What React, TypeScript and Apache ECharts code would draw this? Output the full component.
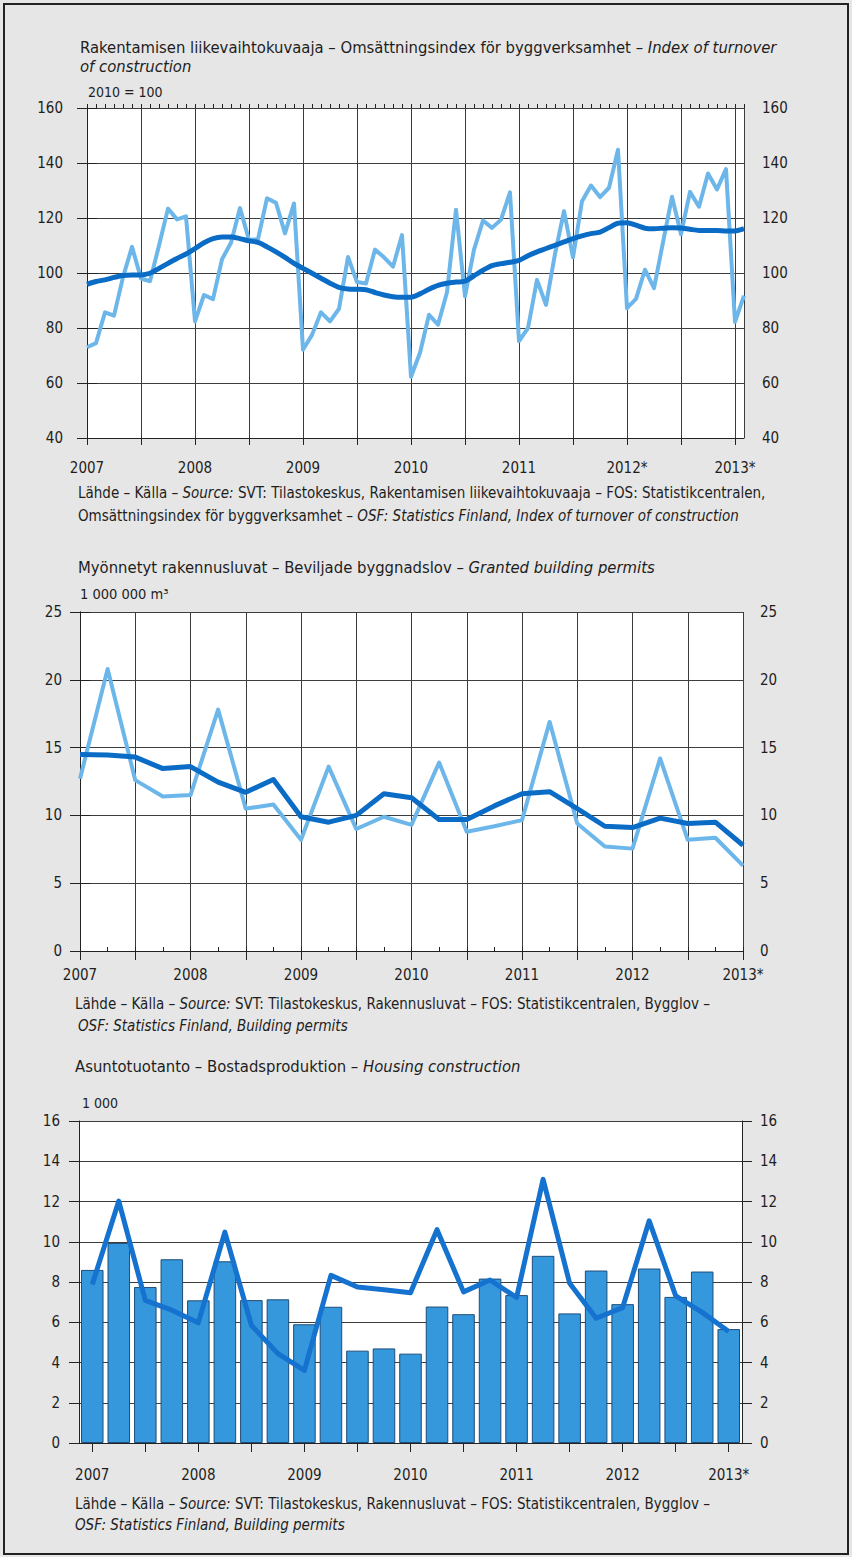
import React, { useEffect, useRef } from 'react';
import * as echarts from 'echarts';

// ---------- Data ----------
// Chart 1: Index of turnover of construction, monthly Jan 2007 – Feb 2013 (2010 = 100)
const turnoverOriginal = [
  73, 74.5, 85.7, 84.5, 98.5, 109.5, 98, 97, 110, 123.4, 119.5, 120.6,
  82.4, 92, 90.5, 105, 111, 123.6, 112, 112.3, 127.2, 125.5, 114.4, 125.3,
  72.1, 77.5, 85.7, 82.4, 87, 105.8, 96.7, 96.2, 108.5, 105.7, 102.3, 113.8,
  62.3, 71, 84.8, 81.2, 93, 123, 91.5, 108.5, 119.1, 116.4, 119.4, 129.3,
  75.2, 80, 97.5, 88.4, 106.9, 122.5, 105.7, 126.1, 131.8, 127.6, 131, 144.8,
  87.2, 90.6, 101.2, 94.5, 111.1, 127.7, 114.1, 129.5, 124.1, 136.2, 130.4, 137.8,
  82.2, 91.8,
];
const turnoverTrend = [
  95.9, 96.9, 97.5, 98.4, 99.1, 99.3, 99.3, 99.9, 101.7, 103.5, 105.3, 106.9,
  108.9, 111, 112.5, 113.1, 113.1, 112.5, 111.7, 111.1, 109.5, 107.7, 105.7, 103.5,
  101.7, 99.9, 98.1, 96.3, 94.8, 94.2, 94.1, 93.9, 92.9, 92, 91.4, 91.2,
  91.2, 92.4, 94.1, 95.5, 96.3, 96.7, 97, 99, 101, 102.7, 103.4, 103.9,
  104.6, 106.3, 107.7, 108.9, 110.1, 111.3, 112.5, 113.5, 114.3, 114.9, 116.5, 118.1,
  118.3, 117.4, 116.3, 116.1, 116.3, 116.5, 116.4, 115.9, 115.5, 115.5, 115.5, 115.3,
  115.3, 116.1,
];
const turnoverYTicks = [40, 160, 20]; // min, max, step

// Chart 2: Granted building permits, quarterly 2007Q1 – 2013Q1 (1 000 000 m3)
const permits = [
  12.7, 20.8, 12.6, 11.4, 11.5, 17.8, 10.5, 10.8, 8.2, 13.6, 9.0, 9.9,
  9.3, 13.9, 8.8, 9.2, 9.65, 16.9, 9.4, 7.7, 7.55, 14.2, 8.2, 8.35, 6.3,
];
const permitsTrend = [
  14.5, 14.45, 14.3, 13.45, 13.6, 12.45, 11.7, 12.65, 9.9, 9.5, 10.0, 11.6,
  11.3, 9.7, 9.7, 10.7, 11.6, 11.75, 10.5, 9.2, 9.1, 9.8, 9.4, 9.5, 7.8,
];

// Chart 3: Housing construction, quarterly 2007Q1 – 2013Q1 (1 000)
const quarters = [
  '2007Q1', '2007Q2', '2007Q3', '2007Q4', '2008Q1', '2008Q2', '2008Q3', '2008Q4',
  '2009Q1', '2009Q2', '2009Q3', '2009Q4', '2010Q1', '2010Q2', '2010Q3', '2010Q4',
  '2011Q1', '2011Q2', '2011Q3', '2011Q4', '2012Q1', '2012Q2', '2012Q3', '2012Q4', '2013Q1',
];
const housingBars = [
  8.6, 9.94, 7.75, 9.13, 7.09, 9.03, 7.1, 7.14, 5.9, 6.77, 4.59, 4.7,
  4.44, 6.78, 6.4, 8.17, 7.35, 9.3, 6.44, 8.57, 6.9, 8.67, 7.26, 8.52, 5.66,
];
const housingLine = [
  7.88, 12.02, 7.09, 6.6, 5.98, 10.48, 5.85, 4.44, 3.61, 8.33, 7.75, 7.62,
  7.47, 10.6, 7.51, 8.1, 7.23, 13.1, 7.94, 6.2, 6.73, 11.04, 7.31, 6.49, 5.54,
];

// ---------- Styles ----------
const FONT = "'Liberation Sans Narrow', 'DejaVu Sans Condensed', 'Roboto', sans-serif";
const TXT = '#1e1e1e';
const GRID_LINE = '#3c3c3c';
const LIGHT = '#6cb6ea';
const DARK = '#0b6cc6';
const BAR = '#3597dc';
const AXIS_FS = 15;
const SRC_FS = 15;

const richStyle = (size: number) => ({
  n: { fontFamily: FONT, fontSize: size, fill: TXT, fontStyle: 'normal' },
  i: { fontFamily: FONT, fontSize: size, fill: TXT, fontStyle: 'italic' },
});

const textEl = (x: number, y: number, text: string, size: number) => ({
  type: 'text',
  x,
  y,
  silent: true,
  style: {
    text,
    fontFamily: FONT,
    fontSize: size,
    fill: TXT,
    verticalAlign: 'middle',
    align: 'left',
    rich: richStyle(size),
  },
});

const yearLabel = (year: number, star: boolean) => (star ? `${year}*` : `${year}`);

const labelStyle = { fontFamily: FONT, fontSize: AXIS_FS, color: TXT };

function yAxisPair(gridIndex: number, min: number, max: number, interval: number, lm: number, rm: number) {
  const base = {
    type: 'value',
    gridIndex,
    min,
    max,
    interval,
    axisLine: { show: true, lineStyle: { color: '#222', width: 1 } },
    axisTick: { show: true, length: 10, lineStyle: { color: '#222', width: 1 } },
  };
  return [
    {
      ...base,
      position: 'left',
      axisLabel: { ...labelStyle, margin: lm },
      splitLine: { show: true, lineStyle: { color: GRID_LINE, width: 1 } },
    },
    {
      ...base,
      position: 'right',
      axisLabel: { ...labelStyle, margin: rm },
      splitLine: { show: false },
    },
  ];
}

export default function App() {
  const ref = useRef<HTMLDivElement>(null);

  useEffect(() => {
    if (!ref.current) return;
    const chart = echarts.init(ref.current, null, { renderer: 'svg' });

    const option: any = {
      animation: false,
      backgroundColor: '#e6e6e6',
      grid: [
        { left: 87, top: 108, width: 657, height: 330, show: true, backgroundColor: '#fff', borderWidth: 0 },
        { left: 80, top: 612, width: 663, height: 339, show: true, backgroundColor: '#fff', borderWidth: 0 },
        { left: 79, top: 1121, width: 663, height: 322, show: true, backgroundColor: '#fff', borderWidth: 0 },
      ],
      xAxis: [
        // chart 1 main
        {
          type: 'value', gridIndex: 0, min: 0, max: turnoverOriginal.length - 1, interval: 6,
          axisLine: { show: true, lineStyle: { color: '#222' } },
          axisTick: { show: true, length: 7, lineStyle: { color: '#222' } },
          splitLine: { show: true, lineStyle: { color: GRID_LINE, width: 1 } },
          axisLabel: {
            ...labelStyle, margin: 22, showMaxLabel: false,
            formatter: (v: number) => (v % 12 === 0 ? yearLabel(2007 + v / 12, v >= 60) : ''),
          },
        },
        // chart 1 monthly ticks
        {
          type: 'value', gridIndex: 0, min: 0, max: turnoverOriginal.length - 1, interval: 1,
          axisLine: { show: false }, axisLabel: { show: false }, splitLine: { show: false },
          axisTick: { show: true, length: 4, lineStyle: { color: '#222' } },
        },
        // chart 2 main
        {
          type: 'value', gridIndex: 1, min: 0, max: permits.length - 1, interval: 2,
          axisLine: { show: true, lineStyle: { color: '#222' } },
          axisTick: { show: true, length: 9, lineStyle: { color: '#222' } },
          splitLine: { show: true, lineStyle: { color: GRID_LINE, width: 1 } },
          axisLabel: {
            ...labelStyle, margin: 16,
            formatter: (v: number) => (v % 4 === 0 ? yearLabel(2007 + v / 4, v >= 24) : ''),
          },
        },
        // chart 2 quarterly ticks
        {
          type: 'value', gridIndex: 1, min: 0, max: permits.length - 1, interval: 1,
          axisLine: { show: false }, axisLabel: { show: false }, splitLine: { show: false },
          axisTick: { show: true, length: 4, lineStyle: { color: '#222' } },
        },
        // chart 3 main
        {
          type: 'category', gridIndex: 2, data: quarters, boundaryGap: true,
          axisLine: { show: true, lineStyle: { color: '#222' } },
          axisTick: { show: true, alignWithLabel: true, length: 9, interval: (i: number) => i % 2 === 0, lineStyle: { color: '#222' } },
          splitLine: { show: false },
          axisLabel: {
            ...labelStyle, margin: 24, interval: (i: number) => i % 4 === 0,
            formatter: (v: string) => yearLabel(parseInt(v.slice(0, 4), 10), v.startsWith('2013')),
          },
        },
        // chart 3 quarterly ticks
        {
          type: 'category', gridIndex: 2, data: quarters, boundaryGap: true,
          axisLine: { show: false }, axisLabel: { show: false }, splitLine: { show: false },
          axisTick: { show: true, alignWithLabel: true, interval: 0, length: 4, lineStyle: { color: '#222' } },
        },
      ],
      yAxis: [
        ...yAxisPair(0, turnoverYTicks[0], turnoverYTicks[1], turnoverYTicks[2], 24, 18),
        ...yAxisPair(1, 0, 25, 5, 18, 17),
        ...yAxisPair(2, 0, 16, 2, 19, 18),
      ],
      series: [
        {
          name: 'Alkuperäinen', type: 'line', xAxisIndex: 0, yAxisIndex: 0, symbol: 'none',
          data: turnoverOriginal.map((v, i) => [i, v]),
          lineStyle: { color: LIGHT, width: 4, join: 'round' }, itemStyle: { color: LIGHT },
        },
        {
          name: 'Trendi', type: 'line', xAxisIndex: 0, yAxisIndex: 0, symbol: 'none', smooth: 0.3,
          data: turnoverTrend.map((v, i) => [i, v]),
          lineStyle: { color: DARK, width: 5 }, itemStyle: { color: DARK },
        },
        {
          name: 'Rakennusluvat', type: 'line', xAxisIndex: 2, yAxisIndex: 2, symbol: 'none',
          data: permits.map((v, i) => [i, v]),
          lineStyle: { color: LIGHT, width: 4, join: 'round' }, itemStyle: { color: LIGHT },
        },
        {
          name: 'Trendi 2', type: 'line', xAxisIndex: 2, yAxisIndex: 2, symbol: 'none',
          data: permitsTrend.map((v, i) => [i, v]),
          lineStyle: { color: DARK, width: 5, join: 'round' }, itemStyle: { color: DARK },
        },
        {
          name: 'Pylväät', type: 'bar', xAxisIndex: 4, yAxisIndex: 4, barCategoryGap: '15%',
          data: housingBars,
          itemStyle: { color: BAR, borderColor: '#1f4d78', borderWidth: 1 },
        },
        {
          name: 'Viiva', type: 'line', xAxisIndex: 4, yAxisIndex: 4, symbol: 'none',
          data: housingLine,
          lineStyle: { color: '#1672cf', width: 5, join: 'round' }, itemStyle: { color: '#1672cf' },
        },
      ],
      graphic: [
        {
          type: 'rect', silent: true, z: -1,
          shape: { x: 4, y: 4, width: 844, height: 1550 },
          style: { fill: 'none', stroke: '#222', lineWidth: 2 },
        },
        textEl(80, 47, '{n|Rakentamisen liikevaihtokuvaaja – Omsättningsindex för byggverksamhet – }{i|Index of turnover}', 16.5),
        textEl(80, 66, '{i|of construction}', 16.5),
        textEl(88, 92, '{n|2010 = 100}', 14),
        textEl(78, 493, '{n|Lähde – Källa – }{i|Source:}{n| SVT: Tilastokeskus, Rakentamisen liikevaihtokuvaaja – FOS: Statistikcentralen,}', SRC_FS),
        textEl(78, 516, '{n|Omsättningsindex för byggverksamhet – }{i|OSF: Statistics Finland, Index of turnover of construction}', SRC_FS),
        textEl(78, 567, '{n|Myönnetyt rakennusluvat – Beviljade byggnadslov – }{i|Granted building permits}', 16.5),
        textEl(80, 594, '{n|1 000 000 m³}', 14.5),
        textEl(75, 1004, '{n|Lähde – Källa – }{i|Source:}{n| SVT: Tilastokeskus, Rakennusluvat – FOS: Statistikcentralen, Bygglov –}', SRC_FS),
        textEl(78, 1026, '{i|OSF: Statistics Finland, Building permits}', SRC_FS),
        textEl(75, 1066, '{n|Asuntotuotanto – Bostadsproduktion – }{i|Housing construction}', 16.5),
        textEl(82, 1103, '{n|1 000}', 14),
        textEl(75, 1504, '{n|Lähde – Källa – }{i|Source:}{n| SVT: Tilastokeskus, Rakennusluvat – FOS: Statistikcentralen, Bygglov –}', SRC_FS),
        textEl(75, 1525, '{i|OSF: Statistics Finland, Building permits}', SRC_FS),
      ],
    };

    chart.setOption(option);
    return () => chart.dispose();
  }, []);

  return <div ref={ref} style={{ position: 'absolute', left: 0, top: 0, width: 852, height: 1557 }} />;
}
